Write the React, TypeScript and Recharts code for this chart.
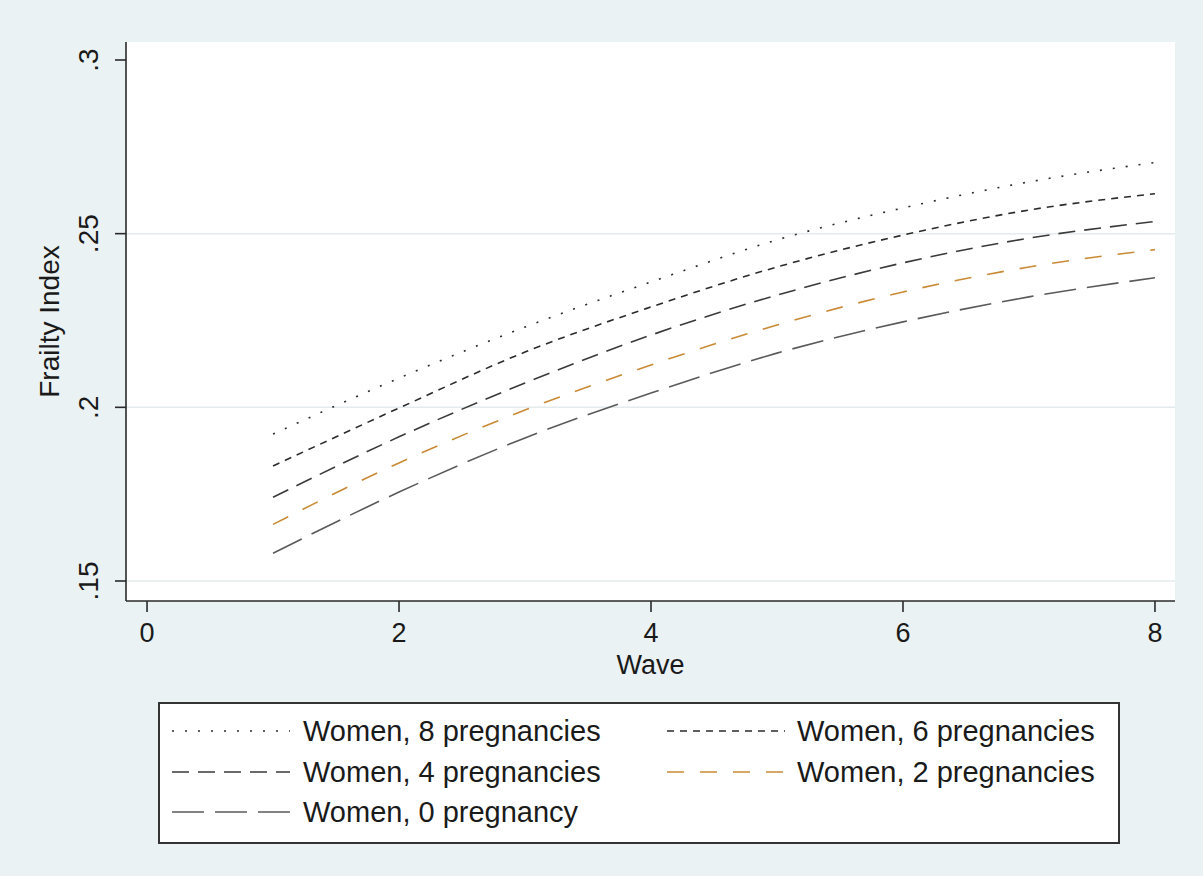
import {
  LineChart,
  Line,
  XAxis,
  YAxis,
  CartesianGrid,
  ReferenceLine,
  Legend,
  Label,
} from "recharts";

const waves = [1, 2, 3, 4, 5, 6, 7, 8];
const preg8 = [0.1923, 0.2084, 0.2231, 0.2361, 0.2482, 0.2574, 0.2649, 0.2705];
const preg6 = [0.1831, 0.1998, 0.2159, 0.2289, 0.2404, 0.2496, 0.2568, 0.2615];
const preg4 = [0.1741, 0.1915, 0.207, 0.2208, 0.2323, 0.2416, 0.2487, 0.2535];
const preg2 = [0.1663, 0.184, 0.1992, 0.2122, 0.2237, 0.2332, 0.2404, 0.2454];
const preg0 = [0.158, 0.1756, 0.1912, 0.2041, 0.2156, 0.2246, 0.2318, 0.2373];

const xTicks = [0, 2, 4, 6, 8];
const yTicks = [0.15, 0.2, 0.25, 0.3];
const gridValues = [0.15, 0.2, 0.25];

const seriesNames = [
  "Women, 8 pregnancies",
  "Women, 6 pregnancies",
  "Women, 4 pregnancies",
  "Women, 2 pregnancies",
  "Women, 0 pregnancy",
];

const data = waves.map((w, i) => ({
  wave: w,
  p8: preg8[i],
  p6: preg6[i],
  p4: preg4[i],
  p2: preg2[i],
  p0: preg0[i],
}));

const FONT = "'Liberation Sans', Arial, sans-serif";
const TEXT = "#1a1a1a";
const AXIS = "#2a2a2a";

// stata-ish line styles
const styles = [
  { key: "p8", color: "#2b2b2b", dash: "2 11" },
  { key: "p6", color: "#2b2b2b", dash: "7 6" },
  { key: "p4", color: "#3a3a3a", dash: "17 9" },
  { key: "p2", color: "#c98a36", dash: "17 16" },
  { key: "p0", color: "#5a5a5a", dash: "32 11" },
];

const fmtY = (v: number) => String(v).replace(/^0/, "");

const YTick = (props: any) => {
  const { x, y, payload } = props;
  return (
    <text
      x={x}
      y={y}
      transform={`rotate(-90 ${x} ${y})`}
      textAnchor="middle"
      fontSize={28}
      fill={TEXT}
      fontFamily={FONT}
    >
      {fmtY(payload.value)}
    </text>
  );
};

const YLabel = (props: any) => {
  const vb = props.viewBox || { x: 46, y: 42, width: 80, height: 559 };
  const cx = 59;
  const cy = vb.y + vb.height / 2;
  return (
    <text
      x={cx}
      y={cy}
      transform={`rotate(-90 ${cx} ${cy})`}
      textAnchor="middle"
      fontSize={28}
      fill={TEXT}
      fontFamily={FONT}
    >
      Frailty Index
    </text>
  );
};

const LegendBox = () => {
  const rows = [29, 70, 110];
  const cols = [
    { sx: 14, tx: 145 },
    { sx: 509, tx: 639 },
  ];
  return (
    <svg width={962} height={142} style={{ display: "block" }}>
      <rect x={1} y={1} width={960} height={140} fill="#fff" stroke="#333" strokeWidth={2} />
      {styles.map((s, i) => {
        const r = rows[Math.floor(i / 2)];
        const c = cols[i % 2];
        return (
          <g key={s.key}>
            <line
              x1={c.sx}
              x2={c.sx + 118}
              y1={r}
              y2={r}
              stroke={s.color}
              strokeWidth={1.6}
              strokeDasharray={s.dash}
            />
            <text x={c.tx} y={r + 10} fontSize={29} fill={TEXT} fontFamily={FONT}>
              {seriesNames[i]}
            </text>
          </g>
        );
      })}
    </svg>
  );
};

export default function App() {
  return (
    <div
      style={{
        position: "absolute",
        left: 0,
        top: 0,
        width: 1203,
        height: 876,
        background: "#eaf2f3",
        fontFamily: FONT,
      }}
    >
      <LineChart
        width={1203}
        height={876}
        data={data}
        margin={{ top: 42, right: 28, left: 46, bottom: 205 }}
      >
        <CartesianGrid fill="#ffffff" horizontal={false} vertical={false} />
        {gridValues.map((g) => (
          <ReferenceLine key={g} y={g} stroke="#e4ebec" strokeWidth={1.5} ifOverflow="visible" />
        ))}
        <XAxis
          dataKey="wave"
          type="number"
          domain={[-0.167, 8.159]}
          ticks={xTicks}
          interval={0}
          allowDataOverflow
          height={70}
          tickSize={11}
          tickMargin={11}
          stroke={AXIS}
          axisLine={{ stroke: AXIS, strokeWidth: 1.6 }}
          tickLine={{ stroke: AXIS, strokeWidth: 1.6 }}
          tick={{ fontSize: 27, fill: TEXT, fontFamily: FONT }}
        >
          <Label value="Wave" position="insideBottom" offset={-3} fontSize={27} fill={TEXT} fontFamily={FONT} />
        </XAxis>
        <YAxis
          type="number"
          domain={[0.14424, 0.30518]}
          ticks={yTicks}
          interval={0}
          allowDataOverflow
          width={80}
          tickSize={11}
          tickMargin={17}
          axisLine={{ stroke: AXIS, strokeWidth: 1.6 }}
          tickLine={{ stroke: AXIS, strokeWidth: 1.6 }}
          tick={<YTick />}
          label={<YLabel />}
        />
        {styles.map((s, i) => (
          <Line
            key={s.key}
            dataKey={s.key}
            name={seriesNames[i]}
            type="monotone"
            stroke={s.color}
            strokeWidth={1.6}
            strokeDasharray={s.dash}
            dot={false}
            activeDot={false}
            isAnimationActive={false}
          />
        ))}
        <Legend
          layout="vertical"
          align="center"
          verticalAlign="middle"
          content={<LegendBox />}
          wrapperStyle={{ left: 158, top: 702, width: 962, height: 142 }}
        />
      </LineChart>
    </div>
  );
}
